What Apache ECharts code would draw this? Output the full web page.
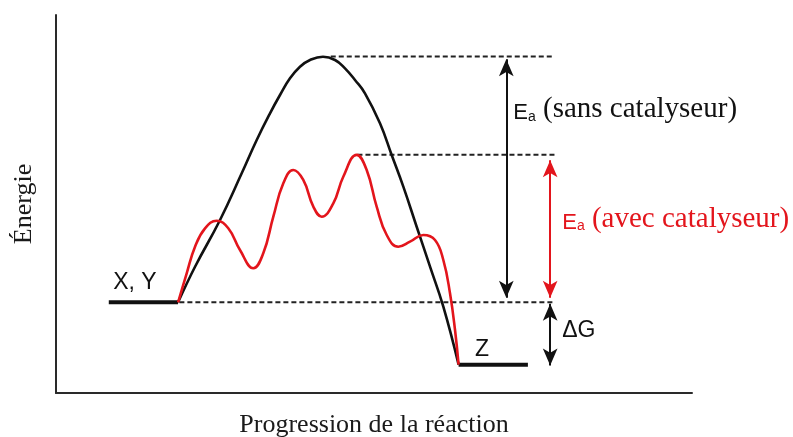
<!DOCTYPE html>
<html><head><meta charset="utf-8">
<script src="https://cdn.jsdelivr.net/npm/echarts@6/dist/echarts.min.js"></script>
<style>html,body{margin:0;padding:0;background:#fff}#c{width:793px;height:437px}</style>
</head><body><div id="c"></div>
<script>
// Uncatalysed path (black)
const progressBlack = [19.2, 21.86, 25.79, 29.20, 31.56, 33.65, 35.22, 36.79, 38.36, 39.94, 41.98, 43.87, 45.44, 47.01, 48.58, 50.94, 52.78, 54.61, 56.71, 58.81, 60.90, 63.3];
const energyBlack   = [24.0, 33.4, 45.77, 58.12, 66.93, 74.00, 78.84, 83.25, 86.32, 88.10, 88.97, 88.10, 85.90, 82.80, 79.29, 71.35, 62.96, 54.58, 43.99, 33.41, 22.83, 7.5];
// Catalysed path (red)
const progressRed = [19.2, 20.55, 21.86, 23.43, 25.27, 27.09, 28.93, 31.02, 32.59, 34.17, 35.74, 37.31, 38.88, 40.46, 41.78, 43.60, 45.17, 47.28, 48.85, 50.42, 52.00, 53.82, 55.66, 57.75, 59.59, 60.90, 61.95, 62.74, 63.3];
const energyRed   = [24.0, 31.67, 38.70, 43.57, 45.58, 43.57, 37.83, 32.99, 36.96, 46.64, 55.48, 58.99, 56.35, 49.29, 46.64, 50.19, 57.22, 63.0, 58.99, 49.29, 41.80, 38.70, 40.03, 41.80, 40.48, 35.19, 26.38, 16.67, 7.5];
// Energy levels
const reactantEnergy = 24.0;
const productEnergy = 7.5;
const tsUncatalysed = 89.0;
const tsCatalysed = 63.0;
// Plateaus (progress start/end)
const reactantSpan = [8.3, 19.2];
const productSpan = [63.3, 74.2];
// Dashed reference lines: start progress, end progress, level
const guideStart = [43.2, 47.4, 19.4];
const guideEnd = [78.4, 78.4, 78.4];
const guideLevel = [tsUncatalysed, tsCatalysed, reactantEnergy];
// Arrows: progress, from energy, to energy
const arrowX = [70.8, 77.7, 77.7];
const arrowFrom = [88.3, 61.6, 23.6];
const arrowTo = [25.2, 25.2, 7.3];
// Annotations
const annX = [9.0, 65.9, 79.6, 71.9, 79.6];
const annY = [29.1, 11.4, 16.6, 75.0, 46.0];
const annText = ['X, Y', 'Z', 'ΔG', '{e|E}{s|a}{p| (sans catalyseur)}', '{er|E}{sr|a}{pr| (avec catalyseur)}'];

const RED = '#e3151c';
const BLK = '#111';
const SANS = 'Liberation Sans, Arial, sans-serif';
const SERIF = 'Liberation Serif, Times New Roman, serif';

const zip = (a, b) => a.map((v, i) => [v, b[i]]);

const guideSeries = guideLevel.map((lv, i) => ({
  type: 'line', silent: true, symbol: 'none',
  data: [[guideStart[i], lv], [guideEnd[i], lv]],
  lineStyle: { color: '#222', width: 2, type: [5, 3] }, z: 1
}));

const arrowColors = [BLK, RED, BLK];
const arrowLines = arrowX.map((x, i) => [
  { coord: [x, arrowFrom[i]], lineStyle: { color: arrowColors[i] }, itemStyle: { color: arrowColors[i] } },
  { coord: [x, arrowTo[i]], lineStyle: { color: arrowColors[i] }, itemStyle: { color: arrowColors[i] } }
]);

const chart = echarts.init(document.getElementById('c'));
chart.setOption({
  animation: false,
  backgroundColor: '#fff',
  grid: { left: 56, right: 101, top: 15, bottom: 44, containLabel: false, outerBoundsMode: 'none' },
  xAxis: {
    type: 'value', min: 0, max: 100,
    axisLine: { show: true, lineStyle: { color: '#2a2a2a', width: 2 } },
    axisTick: { show: false }, axisLabel: { show: false }, splitLine: { show: false },
    name: 'Progression de la réaction', nameLocation: 'middle', nameGap: 19,
    nameTextStyle: { fontFamily: SERIF, fontSize: 26, color: '#1a1a1a' }
  },
  yAxis: {
    type: 'value', min: 0, max: 100,
    axisLine: { show: true, lineStyle: { color: '#2a2a2a', width: 2 } },
    axisTick: { show: false }, axisLabel: { show: false }, splitLine: { show: false },
    name: 'Énergie', nameLocation: 'middle', nameGap: 19,
    nameTextStyle: { fontFamily: SERIF, fontSize: 26, color: '#1a1a1a' }
  },
  series: [
    ...guideSeries,
    {
      type: 'line', name: 'reactants', symbol: 'none', silent: true,
      data: [[reactantSpan[0], reactantEnergy], [reactantSpan[1], reactantEnergy]],
      lineStyle: { color: BLK, width: 4 }, z: 3,
      markLine: {
        silent: true, symbol: ['arrow', 'arrow'], symbolSize: [11, 17],
        label: { show: false }, lineStyle: { width: 2, type: 'solid' },
        data: arrowLines
      }
    },
    {
      type: 'line', name: 'products', symbol: 'none', silent: true,
      data: [[productSpan[0], productEnergy], [productSpan[1], productEnergy]],
      lineStyle: { color: BLK, width: 4 }, z: 3
    },
    {
      type: 'line', name: 'sans catalyseur', symbol: 'none', smooth: 0.45, silent: true,
      data: zip(progressBlack, energyBlack),
      lineStyle: { color: BLK, width: 2.6 }, z: 4
    },
    {
      type: 'line', name: 'avec catalyseur', symbol: 'none', smooth: 0.45, silent: true,
      data: zip(progressRed, energyRed),
      lineStyle: { color: RED, width: 2.6 }, z: 5
    },
    {
      type: 'scatter', symbolSize: 0, silent: true,
      itemStyle: { opacity: 1 },
      data: zip(annX, annY),
      label: {
        show: true, position: 'right', distance: 0, align: 'left', verticalAlign: 'middle',
        fontFamily: SANS, fontSize: 23, color: '#111', opacity: 1,
        formatter: p => annText[p.dataIndex],
        rich: {
          e: { fontFamily: SANS, fontSize: 22, color: '#111', verticalAlign: 'bottom' },
          s: { fontFamily: SANS, fontSize: 14, color: '#111', verticalAlign: 'bottom' },
          p: { fontFamily: SERIF, fontSize: 29, color: '#111', verticalAlign: 'bottom' },
          er: { fontFamily: SANS, fontSize: 22, color: RED, verticalAlign: 'bottom' },
          sr: { fontFamily: SANS, fontSize: 14, color: RED, verticalAlign: 'bottom' },
          pr: { fontFamily: SERIF, fontSize: 29, color: RED, verticalAlign: 'bottom' }
        }
      }
    }
  ]
});
</script></body></html>
